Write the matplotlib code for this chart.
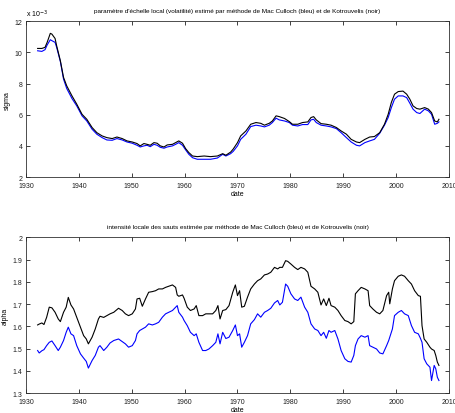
import matplotlib
matplotlib.use("Agg")
import matplotlib.pyplot as plt
from matplotlib import font_manager

# ---------------- data ----------------
years_sigma = [1932.2, 1933.0, 1933.6, 1934.0, 1934.6, 1934.9, 1935.5, 1935.8, 1936.5, 1937.1,
               1937.7, 1938.7, 1939.6, 1940.6, 1941.5, 1942.5, 1943.4, 1944.4, 1945.3, 1946.3,
               1947.2, 1948.2, 1949.1, 1950.1, 1951.0, 1951.6, 1952.3, 1952.9, 1953.5, 1954.2,
               1954.8, 1955.4, 1956.1, 1956.7, 1957.7, 1958.3, 1958.9, 1959.6, 1960.2, 1960.8,
               1961.5, 1962.4, 1963.7, 1964.9, 1966.2, 1967.2, 1967.8, 1968.7, 1969.2, 1970.0,
               1970.6, 1971.6, 1972.5, 1973.5, 1974.4, 1975.1, 1976.0, 1976.6, 1977.3, 1977.9,
               1978.9, 1979.8, 1980.4, 1981.4, 1982.3, 1983.3, 1983.9, 1984.4, 1984.9, 1985.8,
               1986.8, 1987.7, 1988.7, 1989.6, 1990.6, 1991.5, 1992.5, 1993.1, 1994.1, 1995.0,
               1995.9, 1996.9, 1997.8, 1998.5, 1999.1, 1999.7, 2000.4, 2001.3, 2002.0, 2002.6,
               2003.2, 2003.9, 2004.5, 2005.4, 2006.1, 2006.7, 2007.3, 2007.8, 2008.1]
sigma_koutrouvelis = [10.26, 10.26, 10.33, 10.65, 11.23, 11.18, 10.90, 10.43, 9.47, 8.40,
                      7.86, 7.21, 6.68, 6.03, 5.71, 5.18, 4.85, 4.64, 4.53, 4.47,
                      4.57, 4.47, 4.32, 4.25, 4.15, 4.00, 4.15, 4.10, 4.04, 4.21,
                      4.17, 4.00, 3.93, 4.06, 4.10, 4.21, 4.32, 4.17, 3.82, 3.57,
                      3.35, 3.31, 3.35, 3.31, 3.35, 3.50, 3.40, 3.60, 3.80, 4.21,
                      4.64, 4.96, 5.39, 5.50, 5.45, 5.33, 5.45, 5.60, 5.93, 5.88,
                      5.76, 5.56, 5.39, 5.39, 5.50, 5.54, 5.82, 5.88, 5.67, 5.43,
                      5.39, 5.33, 5.18, 4.96, 4.75, 4.42, 4.25, 4.21, 4.42, 4.57,
                      4.60, 4.85, 5.39, 6.03, 6.79, 7.32, 7.49, 7.52, 7.32, 7.00,
                      6.57, 6.40, 6.36, 6.46, 6.36, 6.14, 5.60, 5.54, 5.71]
sigma_mcculloch = [10.11, 10.07, 10.18, 10.48, 10.82, 10.76, 10.65, 10.33, 9.42, 8.29,
                   7.69, 7.04, 6.57, 5.93, 5.60, 5.07, 4.75, 4.53, 4.38, 4.36,
                   4.47, 4.38, 4.25, 4.17, 4.04, 3.93, 4.00, 4.04, 3.95, 4.10,
                   4.04, 3.91, 3.85, 3.93, 4.00, 4.10, 4.21, 4.04, 3.74, 3.46,
                   3.24, 3.14, 3.14, 3.14, 3.22, 3.46, 3.35, 3.50, 3.65, 4.00,
                   4.42, 4.75, 5.24, 5.33, 5.28, 5.22, 5.33, 5.50, 5.78, 5.67,
                   5.60, 5.50, 5.33, 5.28, 5.37, 5.37, 5.67, 5.71, 5.50, 5.33,
                   5.28, 5.22, 5.11, 4.85, 4.53, 4.25, 4.04, 4.00, 4.21, 4.32,
                   4.42, 4.81, 5.33, 5.82, 6.46, 7.00, 7.21, 7.21, 7.10, 6.74,
                   6.36, 6.14, 6.08, 6.36, 6.25, 6.03, 5.39, 5.45, 5.54]

years_alpha = [1932.2, 1932.5, 1933.0, 1933.4, 1933.9, 1934.4, 1934.9, 1935.5, 1936.1, 1936.5,
               1937.1, 1937.6, 1938.0, 1938.5, 1939.0, 1939.6, 1940.3, 1940.9, 1941.4, 1941.8,
               1942.5, 1943.1, 1943.7, 1944.0, 1944.7, 1945.3, 1945.9, 1946.6, 1947.5, 1948.2,
               1948.8, 1949.4, 1950.1, 1950.7, 1951.0, 1951.5, 1952.0, 1952.6, 1953.2, 1953.9,
               1954.5, 1955.1, 1955.8, 1956.4, 1957.0, 1957.7, 1958.3, 1958.6, 1958.9, 1959.6,
               1959.9, 1960.5, 1961.1, 1961.8, 1962.2, 1962.7, 1963.4, 1964.0, 1964.6, 1965.3,
               1965.9, 1966.3, 1966.7, 1967.2, 1967.8, 1968.4, 1969.1, 1969.6, 1970.0, 1970.4,
               1970.8, 1971.3, 1971.9, 1972.5, 1973.2, 1973.8, 1974.4, 1975.1, 1975.7, 1976.3,
               1977.0, 1977.6, 1978.0, 1978.5, 1979.1, 1979.5, 1980.1, 1980.8, 1981.4, 1982.0,
               1982.7, 1983.3, 1983.9, 1984.6, 1985.2, 1985.8, 1986.3, 1986.8, 1987.3, 1987.7,
               1988.4, 1989.0, 1989.6, 1990.3, 1990.9, 1991.5, 1992.0, 1992.3, 1992.8, 1993.4,
               1994.1, 1994.7, 1995.0, 1995.6, 1996.3, 1996.9, 1997.5, 1998.2, 1998.6, 1998.8,
               1999.3, 1999.7, 2000.4, 2001.0, 2001.6, 2002.3, 2002.9, 2003.5, 2004.2, 2004.6,
               2004.9, 2005.3, 2005.8, 2006.4, 2006.7, 2007.2, 2007.5, 2007.8, 2008.1]
alpha_koutrouvelis = [1.606, 1.610, 1.615, 1.608, 1.640, 1.686, 1.683, 1.663, 1.633, 1.621,
                      1.663, 1.686, 1.730, 1.696, 1.678, 1.640, 1.596, 1.558, 1.543, 1.521,
                      1.551, 1.588, 1.633, 1.645, 1.640, 1.648, 1.656, 1.663, 1.681, 1.671,
                      1.656, 1.648, 1.656, 1.678, 1.723, 1.726, 1.690, 1.723, 1.753, 1.756,
                      1.760, 1.768, 1.768, 1.775, 1.780, 1.786, 1.775, 1.741, 1.735, 1.741,
                      1.726, 1.686, 1.671, 1.678, 1.693, 1.648, 1.648, 1.656, 1.656, 1.656,
                      1.671, 1.693, 1.633, 1.671, 1.675, 1.693, 1.753, 1.786, 1.738, 1.760,
                      1.686, 1.690, 1.731, 1.768, 1.790, 1.805, 1.813, 1.831, 1.835, 1.843,
                      1.865, 1.858, 1.865, 1.865, 1.895, 1.892, 1.880, 1.865, 1.855, 1.865,
                      1.858, 1.843, 1.780, 1.768, 1.753, 1.696, 1.723, 1.693, 1.726, 1.693,
                      1.686, 1.671, 1.648, 1.626, 1.621, 1.611, 1.621, 1.746, 1.760, 1.775,
                      1.768, 1.760, 1.693, 1.678, 1.663, 1.656, 1.671, 1.738, 1.753, 1.701,
                      1.768, 1.805, 1.825, 1.831, 1.825, 1.805, 1.790, 1.760, 1.738, 1.735,
                      1.603, 1.543, 1.528, 1.506, 1.498, 1.491, 1.469, 1.439, 1.424]
alpha_mcculloch = [1.491, 1.480, 1.490, 1.495, 1.513, 1.528, 1.534, 1.513, 1.491, 1.506,
                   1.536, 1.573, 1.596, 1.566, 1.558, 1.513, 1.476, 1.457, 1.442, 1.412,
                   1.446, 1.469, 1.506, 1.513, 1.491, 1.506, 1.525, 1.536, 1.543, 1.531,
                   1.521, 1.506, 1.513, 1.536, 1.566, 1.581, 1.588, 1.596, 1.611, 1.606,
                   1.611, 1.618, 1.641, 1.656, 1.663, 1.671, 1.686, 1.693, 1.663, 1.641,
                   1.626, 1.603, 1.573, 1.558, 1.566, 1.528, 1.491, 1.491, 1.498, 1.513,
                   1.528, 1.566, 1.521, 1.573, 1.545, 1.551, 1.581, 1.606, 1.558, 1.566,
                   1.506, 1.528, 1.558, 1.611, 1.630, 1.656, 1.641, 1.663, 1.671, 1.681,
                   1.705, 1.716, 1.696, 1.708, 1.790, 1.780, 1.746, 1.723, 1.716, 1.731,
                   1.686, 1.663, 1.611, 1.588, 1.581, 1.558, 1.573, 1.546, 1.581, 1.573,
                   1.581, 1.543, 1.491, 1.454, 1.442, 1.439, 1.469, 1.513, 1.543, 1.558,
                   1.551, 1.558, 1.513, 1.506, 1.498, 1.480, 1.476, 1.513, 1.536, 1.551,
                   1.588, 1.648, 1.663, 1.671, 1.656, 1.648, 1.603, 1.573, 1.566, 1.546,
                   1.528, 1.454, 1.431, 1.416, 1.356, 1.424, 1.409, 1.371, 1.356]

x_ticks = [1930, 1940, 1950, 1960, 1970, 1980, 1990, 2000, 2010]
sigma_ticks = [2, 4, 6, 8, 10, 12]
alpha_ticks = [1.3, 1.4, 1.5, 1.6, 1.7, 1.8, 1.9, 2.0]
alpha_tick_labels = ["1.3", "1.4", "1.5", "1.6", "1.7", "1.8", "1.9", "2"]

title_sigma = ("paramètre d'échelle local (volatilité) estimé par méthode de Mac Culloch "
               "(bleu) et de Kotrouvelis (noir)")
title_alpha = ("intensité locale des sauts estimée par méthode de Mac Culloch "
               "(bleu) et de Kotrouvelis (noir)")

# ---------------- style ----------------
avail = {f.name for f in font_manager.fontManager.ttflist}
fam = ['Liberation Sans Narrow'] if 'Liberation Sans Narrow' in avail else []
plt.rcParams['font.family'] = fam + ['Liberation Sans', 'DejaVu Sans']
FS = 5.0
FT = 4.6

fig = plt.figure(figsize=(4.56, 4.14), dpi=100)
fig.patch.set_facecolor('white')

ax1 = fig.add_axes([0.057, 0.570, 0.9276, 0.376])
ax2 = fig.add_axes([0.057, 0.0483, 0.9276, 0.376])

BLUE = '#0000ff'
for ax in (ax1, ax2):
    ax.set_xlim(1930, 2010)
    ax.set_xticks(x_ticks)
    ax.tick_params(direction='in', length=3, width=0.6, top=True, right=True,
                   labelsize=FS, colors='#202020')
    ax.tick_params(axis='x', pad=3.5)
    ax.tick_params(axis='y', pad=2.5)
    for s in ax.spines.values():
        s.set_linewidth(0.6)
        s.set_color('#303030')
    ax.set_xlabel('date', fontsize=FS, labelpad=1)

ax1.plot(years_sigma, sigma_mcculloch, color=BLUE, lw=0.8)
ax1.plot(years_sigma, sigma_koutrouvelis, color='black', lw=0.8)
ax1.set_ylim(2, 12)
ax1.set_yticks(sigma_ticks)
ax1.set_ylabel('sigma', fontsize=FS, labelpad=3)
ax1.set_title(title_sigma, fontsize=FT, pad=7)
ax1.text(0.0, 1.012, r'x 10$^{-3}$', transform=ax1.transAxes, fontsize=FS,
         ha='left', va='bottom')

ax2.plot(years_alpha, alpha_mcculloch, color=BLUE, lw=0.8)
ax2.plot(years_alpha, alpha_koutrouvelis, color='black', lw=0.8)
ax2.set_ylim(1.3, 2.0)
ax2.set_yticks(alpha_ticks)
ax2.set_yticklabels(alpha_tick_labels)
ax2.set_ylabel('alpha', fontsize=FS, labelpad=3)
ax2.set_title(title_alpha, fontsize=FT, pad=7)

fig.savefig('out.png', dpi=100, facecolor='white')
